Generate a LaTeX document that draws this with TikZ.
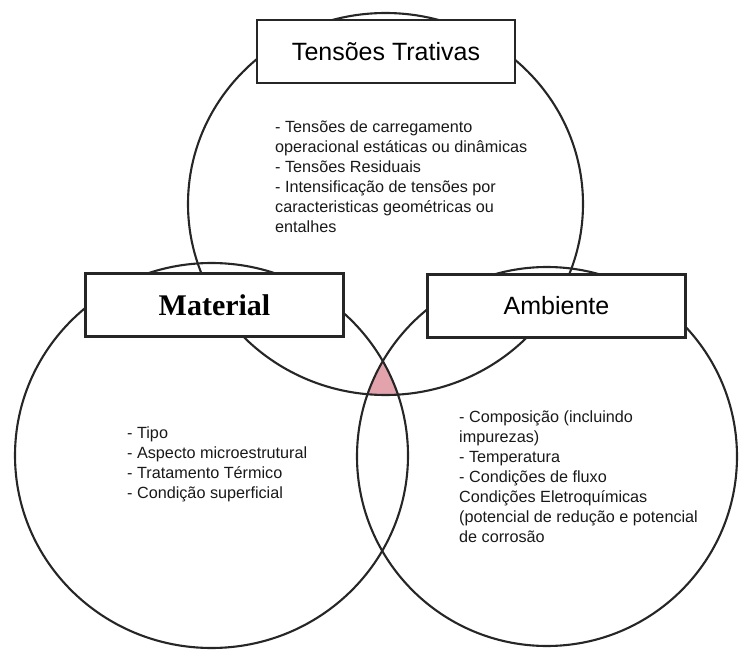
\documentclass[tikz,border=0pt]{standalone}
\usepackage{fontspec}
\setmainfont{Liberation Sans}
\newfontfamily\titleserif{Liberation Serif}
\definecolor{vennpink}{HTML}{E3A3AC}
\tikzset{
    ring/.style={draw=black!85,line width=2.1pt},
    titlebox/.style={draw=black!85,line width=2.1pt,fill=white,minimum width=258pt,minimum height=63pt,inner sep=0pt,font=\fontsize{25}{28}\selectfont},
    listtext/.style={align=left,anchor=north west,inner sep=0pt,text=black!90,font=\fontsize{16.2}{20}\selectfont}
}
\begin{document}
\begin{tikzpicture}[x=1pt,y=-1pt]
            \useasboundingbox (0,0) rectangle (740,650);
            \begin{scope}
                \clip (211.5,455.5) ellipse [x radius=196.5pt,y radius=192.5pt];
                \clip (547,456.5) ellipse [x radius=190pt,y radius=189.5pt];
                \fill[vennpink] (385.5,204) ellipse [x radius=197.5pt,y radius=191pt];
            \end{scope}
            \draw[ring] (385.5,204) ellipse [x radius=197.5pt,y radius=191pt];
            \draw[ring] (211.5,455.5) ellipse [x radius=196.5pt,y radius=192.5pt];
            \draw[ring] (547,456.5) ellipse [x radius=190pt,y radius=189.5pt];
            \node[titlebox] (trativas) at (386,51.5) {Tensões Trativas};
            \node[titlebox,font=\titleserif\bfseries\fontsize{30}{32}\selectfont] (material) at (214.5,305) {Material};
            \node[titlebox] (ambiente) at (556.5,306) {Ambiente};
            \node[listtext] (trativaslist) at (275,121) {- Tensões de carregamento\\operacional estáticas ou dinâmicas\\- Tensões Residuais\\- Intensificação de tensões por\\caracteristicas geométricas ou\\entalhes};
            \node[listtext] (materiallist) at (127,427) {- Tipo\\- Aspecto microestrutural\\- Tratamento Térmico\\- Condição superficial};
            \node[listtext] (ambientelist) at (459,411) {- Composição (incluindo\\impurezas)\\- Temperatura\\- Condições de fluxo\\Condições Eletroquímicas\\(potencial de redução e potencial\\de corrosão};
\end{tikzpicture}
\end{document}
